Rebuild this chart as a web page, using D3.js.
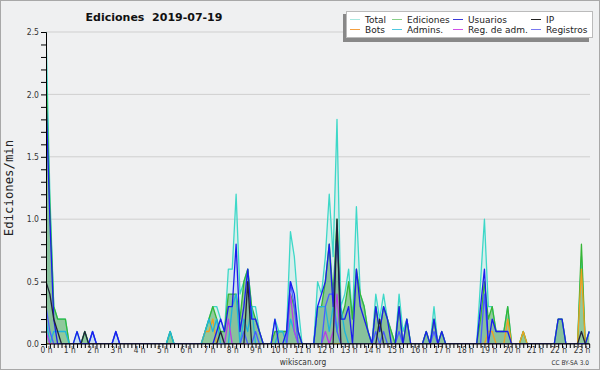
<!DOCTYPE html>
<html><head><meta charset="utf-8">
<script src="https://cdn.jsdelivr.net/npm/d3@7"></script>
<style>body{margin:0;background:#fff}svg{display:block}text{font-family:"DejaVu Sans Condensed","DejaVu Sans",sans-serif}</style>
</head><body><svg id="c" width="600" height="370"></svg>
<script>
// 10-minute slots, index 0 = 00:00 ... 140 = 23:20 (edits per minute)
const hourLabels = ["0 h","1 h","2 h","3 h","4 h","5 h","6 h","7 h","8 h","9 h","10 h","11 h","12 h","13 h","14 h","15 h","16 h","17 h","18 h","19 h","20 h","21 h","22 h","23 h"];
const yTickLabels = ["0.0","0.5","1.0","1.5","2.0","2.5"];
const seriesNames = ["Total","Ediciones","Usuarios","IP","Bots","Admins.","Reg. de adm.","Registros"];

const total = [
2.5,1.2,0.3,0.2,0.2,0.2,0,0,0.1,0,
0.1,0,0.1,0,0,0,0,0,0.1,0,
0,0,0,0,0,0,0,0,0,0,
0,0,0.1,0,0,0,0,0,0,0,
0,0.1,0.2,0.3,0.3,0.2,0.1,0.6,0.6,1.2,
0.4,0.5,0.6,0.3,0.3,0.1,0,0,0,0.2,
0.1,0.1,0.1,0.9,0.7,0.3,0,0,0,0,
0.5,0.4,0.7,1.2,0.7,1.8,0.3,0.4,0.6,0.2,
1.1,0.4,0.3,0.1,0,0.4,0.2,0.4,0.2,0.1,
0,0.4,0.1,0.2,0,0,0,0,0.1,0,
0.3,0,0.1,0,0,0,0,0,0,0,
0,0,0.5,1.0,0.3,0.3,0.1,0.1,0.1,0.3,
0,0,0,0.1,0,0,0,0,0,0,
0,0,0.2,0.2,0,0,0,0,0.7,0,
0.1];
const ediciones = [
2.2,1.1,0.3,0.2,0.2,0.2,0,0,0,0,
0.1,0,0,0,0,0,0,0,0,0,
0,0,0,0,0,0,0,0,0,0,
0,0,0.1,0,0,0,0,0,0,0,
0,0.1,0.2,0.3,0.2,0.1,0.1,0.4,0.4,0.4,
0.2,0.5,0.6,0.3,0.2,0.1,0,0,0,0.1,
0.1,0.1,0.1,0.4,0.3,0.1,0,0,0,0,
0.3,0.3,0.5,0.8,0.4,1.0,0.2,0.3,0.5,0.2,
0.6,0.4,0.3,0.1,0,0.3,0.1,0.3,0.2,0.1,
0,0.3,0,0.2,0,0,0,0,0.1,0,
0.2,0,0.1,0,0,0,0,0,0,0,
0,0,0.2,0.5,0.2,0.3,0.1,0.1,0.1,0.3,
0,0,0,0.1,0,0,0,0,0,0,
0,0,0.2,0.2,0,0,0,0,0.8,0,
0.1];
const usuarios = [
2.0,1.0,0.2,0,0,0,0,0,0.1,0,
0,0,0.1,0,0,0,0,0,0.1,0,
0,0,0,0,0,0,0,0,0,0,
0,0,0,0,0,0,0,0,0,0,
0,0,0,0,0.1,0.2,0.1,0.3,0.3,0.8,
0.1,0.3,0.6,0.2,0.2,0.1,0,0,0,0.2,
0,0,0.1,0.5,0.4,0.1,0,0,0,0,
0.3,0.4,0.5,0.8,0.3,0.9,0.2,0.2,0.3,0,
0.6,0.3,0.2,0.1,0,0.3,0.1,0.3,0.2,0,
0,0.3,0,0.2,0,0,0,0,0.1,0,
0.2,0,0.1,0,0,0,0,0,0,0,
0,0,0.3,0.6,0,0.2,0.1,0.1,0.1,0.1,
0,0,0,0,0,0,0,0,0,0,
0,0,0.2,0.2,0,0,0,0,0,0,
0.1];
const ip = [
0.5,0.4,0.2,0.1,0,0,0,0,0,0,
0.1,0,0,0,0,0,0,0,0,0,
0,0,0,0,0,0,0,0,0,0,
0,0,0,0,0,0,0,0,0,0,
0,0,0,0,0,0.1,0,0,0,0,
0,0,0.5,0,0,0,0,0,0,0,
0,0,0,0,0,0,0,0,0,0,
0,0,0,0,0,1.0,0,0,0,0,
0,0,0,0,0,0,0.2,0,0,0,
0,0,0,0,0,0,0,0,0,0,
0,0,0,0,0,0,0,0,0,0,
0,0,0,0,0,0,0,0,0,0,
0,0,0,0,0,0,0,0,0,0,
0,0,0,0,0,0,0,0,0.1,0,
0];
const bots = [
0,0,0,0,0,0,0,0,0,0,
0,0,0,0,0,0,0,0,0,0,
0,0,0,0,0,0,0,0,0,0,
0,0,0,0,0,0,0,0,0,0,
0,0.1,0.1,0.2,0,0,0,0,0,0,
0,0,0,0,0,0,0,0,0,0,
0,0,0,0,0,0,0,0,0,0,
0,0,0,0,0,0,0,0,0,0,
0,0,0,0,0,0,0,0,0,0,
0,0,0,0,0,0,0,0,0,0,
0,0,0,0,0,0,0,0,0,0,
0,0,0,0,0.1,0.1,0,0,0,0.2,
0,0,0,0.1,0,0,0,0,0,0,
0,0,0,0,0,0,0,0,0.6,0,
0];
const admins = [
0.2,0,0.1,0.1,0.1,0.1,0,0,0,0,
0,0,0,0,0,0,0,0,0,0,
0,0,0,0,0,0,0,0,0,0,
0,0,0.1,0,0,0,0,0,0,0,
0,0.1,0.2,0.1,0.2,0,0,0,0.3,0.4,
0,0.2,0.1,0.3,0,0,0,0,0,0,
0.1,0.1,0,0.2,0.1,0,0,0,0,0,
0.3,0.3,0.3,0.1,0.3,0.1,0.3,0.1,0,0,
0,0,0,0,0,0,0,0,0,0,
0,0,0,0,0,0,0,0,0,0,
0,0,0,0,0,0,0,0,0,0,
0,0,0,0,0,0,0,0,0,0,
0,0,0,0,0,0,0,0,0,0,
0,0,0,0,0,0,0,0,0,0,
0];
const regAdm = [
0.1,0,0,0,0,0,0,0,0,0,
0,0,0,0,0,0,0,0,0,0,
0,0,0,0,0,0,0,0,0,0,
0,0,0,0,0,0,0,0,0,0,
0,0,0,0,0,0,0,0.2,0,0,
0,0,0,0,0,0,0,0,0,0,
0,0,0,0.4,0.1,0,0,0,0,0,
0,0,0.1,0,0.1,0.4,0,0,0,0,
0,0,0,0,0,0,0,0,0,0,
0,0,0,0,0,0,0,0,0,0,
0,0,0,0,0,0,0,0,0,0,
0,0,0,0,0,0,0,0,0,0,
0,0,0,0,0,0,0,0,0,0,
0,0,0,0,0,0,0,0,0,0,
0];
const registros = [
0.3,0.1,0,0,0,0,0,0,0,0,
0,0,0.1,0,0,0,0,0,0.1,0,
0,0,0,0,0,0,0,0,0,0,
0,0,0,0,0,0,0,0,0,0,
0,0,0,0,0,0,0,0,0,0,
0,0.1,0,0,0.1,0,0,0,0,0,
0,0,0,0.5,0.3,0,0,0,0,0,
0,0,0.3,0.4,0.4,0.1,0,0,0,0,
0,0,0,0,0,0.1,0,0.1,0,0,
0,0.1,0,0,0,0,0,0,0,0,
0.1,0,0,0,0,0,0,0,0,0,
0,0,0,0.4,0,0,0,0,0,0,
0,0,0,0,0,0,0,0,0,0,
0,0,0,0,0,0,0,0,0,0,
0];

const svg = d3.select("#c");
const W = 600, H = 370;
const x = d3.scaleLinear().domain([0, 140]).range([46, 589.2]);
const y = d3.scaleLinear().domain([0, 2.5]).range([344, 32]);

svg.append("rect").attr("x",0.5).attr("y",0.5).attr("width",W-1).attr("height",H-1)
  .attr("fill","#eff0f1").attr("stroke","#a8a8a8");

// gridlines
svg.append("g").selectAll("line").data([0.5,1,1.5,2,2.5]).join("line")
  .attr("x1",46).attr("x2",590).attr("y1",d=>y(d)).attr("y2",d=>y(d))
  .attr("stroke","#cfcfcf").attr("stroke-width",1);

svg.append("clipPath").attr("id","clip").append("rect")
  .attr("x",46).attr("y",30).attr("width",544).attr("height",314);
const g = svg.append("g").attr("clip-path","url(#clip)");

const area = d3.area().x((d,i)=>x(i)).y0(y(0)).y1(d=>y(d));
const line = d3.line().x((d,i)=>x(i)).y(d=>y(d));

g.append("path").datum(total).attr("d",area).attr("fill","rgba(64,224,208,0.13)");
g.append("path").datum(usuarios).attr("d",area).attr("fill","rgba(40,60,255,0.08)");
g.append("path").datum(ediciones).attr("d",area).attr("fill","rgba(45,150,45,0.42)");

const lineSeries = [
  {d: total, c: "#3dd8c8"},
  {d: ediciones, c: "#36b636"},
  {d: bots, c: "#f0a020"},
  {d: admins, c: "#1fb5dc"},
  {d: regAdm, c: "#b93ce6"},
  {d: registros, c: "#4a5cff"},
  {d: usuarios, c: "#1c1cee"},
  {d: ip, c: "#22223a"}
];
lineSeries.forEach(s => {
  g.append("path").datum(s.d).attr("d", line).attr("fill","none")
    .attr("stroke", s.c).attr("stroke-width",1.3).attr("stroke-linejoin","round");
});

// axes
const yAxis = d3.axisLeft(y).tickValues(d3.range(0,26).map(k=>k/10)).tickSize(5).tickPadding(2)
  .tickFormat(d => { const k = Math.round(d*10); return k%5===0 ? yTickLabels[k/5] : ""; });
const ya = svg.append("g").attr("transform","translate(46,0)").call(yAxis);
ya.select(".domain").attr("stroke","#000");
ya.selectAll(".tick line").attr("stroke","#000");
ya.selectAll("text").attr("fill","#333").style("font-size","8.5px");

const xAxis = d3.axisBottom(x).tickValues(d3.range(0,141)).tickSize(4)
  .tickFormat(i => i%6===0 ? hourLabels[i/6] : "");
const xa = svg.append("g").attr("transform","translate(0,344)").call(xAxis);
xa.select(".domain").attr("stroke","#000").attr("d","M46,0H590");
xa.selectAll(".tick line").attr("stroke","#000");
xa.selectAll(".tick text").attr("y",9).attr("dy",null).attr("fill","#333").style("font-size","8.3px");
xa.selectAll(".tick").filter(i => i%6!==0).select("text").remove();

// title
svg.append("text").attr("x",154).attr("y",21).attr("text-anchor","middle")
  .style("font-family","DejaVu Sans").style("font-weight","bold").style("font-size","11px")
  .style("white-space","pre").attr("fill","#111").text("Ediciones  2019-07-19");

// y label
svg.append("text").attr("transform","translate(13,188) rotate(-90)").attr("text-anchor","middle")
  .style("font-family","DejaVu Sans Mono").style("font-size","12.3px").attr("fill","#222").text("Ediciones/min");

// footer
svg.append("text").attr("x",303).attr("y",365).attr("text-anchor","middle")
  .style("font-size","8.3px").attr("fill","#333").text("wikiscan.org");
svg.append("text").attr("x",589).attr("y",365).attr("text-anchor","end")
  .style("font-size","6.5px").attr("fill","#333").text("CC BY-SA 3.0");

// legend
const leg = svg.append("g");
leg.append("rect").attr("x",343).attr("y",14).attr("width",246).attr("height",28).attr("fill","#888");
leg.append("rect").attr("x",346.5).attr("y",11.5).attr("width",246).attr("height",26).attr("fill","#fff").attr("stroke","#bbb");
const legColors = ["#a8e8e0","#88d088","#3a3ad8","#222","#f4a040","#50c8e0","#d050e8","#7878f0"];
const colX = [350, 392, 453, 531];
seriesNames.forEach((n,k) => {
  const col = k%4, row = Math.floor(k/4);
  const cy = 19.5 + row*10;
  const x0 = colX[col];
  leg.append("line").attr("x1",x0).attr("x2",x0+10).attr("y1",cy).attr("y2",cy)
    .attr("stroke",legColors[k]).attr("stroke-width",1);
  leg.append("text").attr("x",x0+15).attr("y",cy+3.2).style("font-family","DejaVu Sans")
    .style("font-size","9px").attr("fill","#222").text(n);
});
</script></body></html>
